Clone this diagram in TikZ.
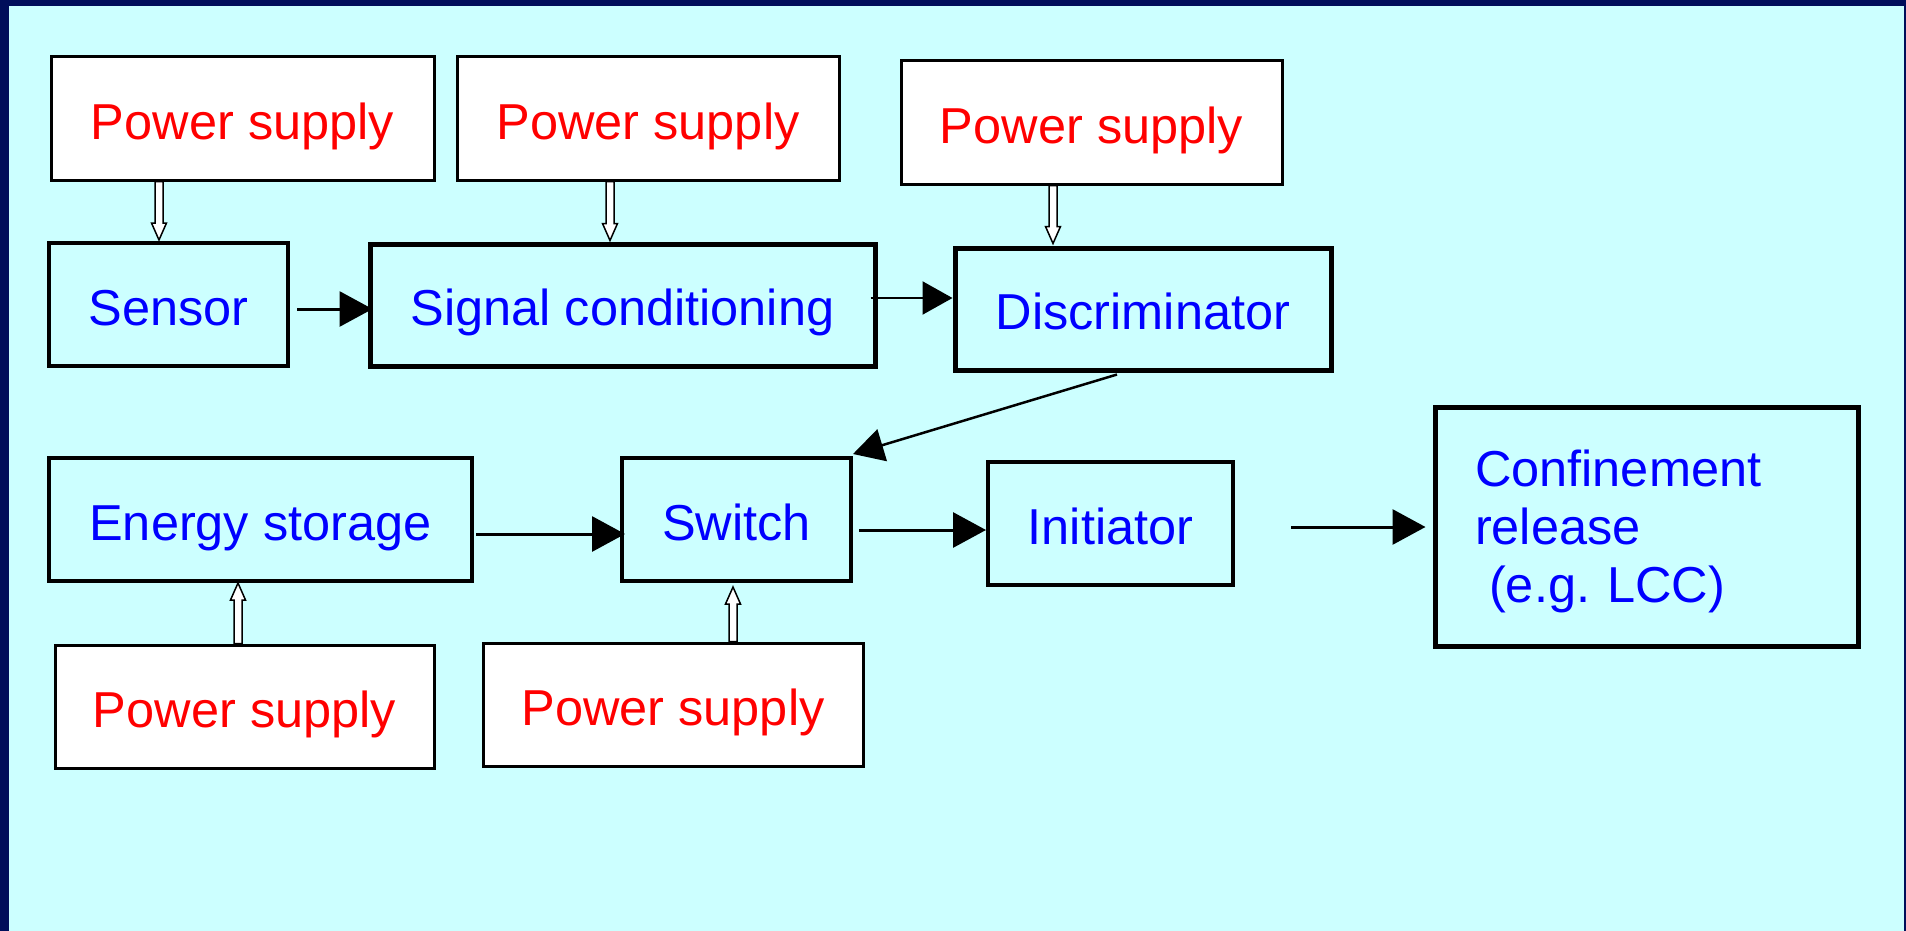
\documentclass[tikz,border=0pt]{standalone}
\usepackage{fontspec}
\setmainfont{Liberation Sans}
\usetikzlibrary{arrows.meta,calc}
\definecolor{navy}{RGB}{0,14,90}
\definecolor{bgcyan}{RGB}{204,255,255}
\definecolor{psred}{RGB}{255,0,0}
\definecolor{blkblue}{RGB}{0,0,255}
\newcommand\bigfont{\fontsize{25.25pt}{29pt}\selectfont}
\newcommand\hollowarrow[3]{\draw[hollow] let \p1=#1, \p2=#2, \n1={#3*8.5} in
  ({\x1-2pt},{\y1}) -- ({\x1-2pt},{\y2+\n1*1pt}) -- ({\x1-3.75pt},{\y2+\n1*1pt}) -- ({\x1},{\y2})
  -- ({\x1+3.75pt},{\y2+\n1*1pt}) -- ({\x1+2pt},{\y2+\n1*1pt}) -- ({\x1+2pt},{\y1}) -- cycle;}
\tikzset{
  psbox/.style={draw=black, line width=1.5pt, fill=white, text=psred, font=\bigfont,
    text height=20.6pt, text depth=0pt, minimum height=61.5pt, inner sep=0pt},
  blkbox/.style={draw=black, line width=2pt, text=blkblue, font=\bigfont,
    text height=20.6pt, text depth=0pt, minimum height=61.5pt, inner sep=0pt},
  heavybox/.style={blkbox, line width=2.5pt},
  arr/.style={line width=1.5pt, -{Triangle[length=16.5pt,width=17.5pt]}},
  arrthin/.style={line width=1.1pt, -{Triangle[length=15pt,width=16.5pt]}},
  arrmid/.style={line width=1.25pt, -{Triangle[length=15.25pt,width=16.5pt]}},
  hollow/.style={draw=black, fill=white, line width=0.75pt, line join=miter}
}
\begin{document}
\begin{tikzpicture}[x=0.5pt,y=-0.5pt]
\useasboundingbox (0,0) rectangle (1906,931);
\fill[navy] (0,0) rectangle (1906,931);
\fill[bgcyan] (9,6) rectangle (1904,931);

% power supplies
\node[psbox, minimum width=191.5pt] (ps1) at (242.5,118.5) {Power supply};
\node[psbox, minimum width=191pt] (ps2) at (648,118.5) {Power supply};
\node[psbox, minimum width=190.5pt] (ps3) at (1091.5,122.5) {Power supply};
\node[psbox, minimum width=189.5pt] (ps4) at (244.5,706.5) {Power supply};
\node[psbox, minimum width=190pt] (ps5) at (673,704.5) {Power supply};

% blocks
\node[blkbox, minimum width=119.5pt] (sensor) at (168.5,304.5) {Sensor};
\node[heavybox, minimum width=252.5pt, minimum height=61pt] (signal) at (622.5,305) {Signal conditioning};
\node[heavybox, minimum width=188pt, minimum height=61pt] (disc) at (1143,309) {Discriminator};
\node[blkbox, minimum width=211.5pt] (energy) at (260.5,519.5) {Energy storage};
\node[blkbox, minimum width=114.5pt] (switch) at (736.5,519.5) {Switch};
\node[blkbox, minimum width=122.5pt] (initiator) at (1110.5,523.5) {Initiator};
\node[draw=black, line width=2.5pt, text=blkblue, font=\bigfont, align=left,
  text width=171.5pt, inner xsep=20pt, inner ysep=0pt,
  minimum width=211.5pt, minimum height=119.5pt] (conf) at (1646.5,526.5)
  {\rule{0pt}{23pt}Confinement\\release\\\hspace*{0.28em}(e.g.\ LCC)};

% solid arrows
\draw[arr] ([xshift=3.5pt,yshift=-2.25pt]sensor.east) -- ([xshift=2.5pt,yshift=-2pt]signal.west);
\draw[arrthin] ([xshift=-3.5pt,yshift=3.5pt]signal.east) -- ([yshift=5.5pt]disc.west);
\draw[arrmid] ([xshift=-13pt,yshift=-1pt]disc.south) -- ([yshift=1pt]switch.north east);
\draw[arr] ([xshift=1pt,yshift=-7.25pt]energy.east) -- ([xshift=2.5pt,yshift=-7.25pt]switch.west);
\draw[arr] ([xshift=3pt,yshift=-5.25pt]switch.east) -- ([yshift=-3.25pt]initiator.west);
\draw[arr] ([xshift=28pt,yshift=-1.75pt]initiator.east) -- ([xshift=-3.5pt,yshift=-0.25pt]conf.west);

% hollow supply arrows
\hollowarrow{([xshift=-41.75pt]ps1.south)}{([xshift=-4.75pt,yshift=0.5pt]sensor.north)}{1}
\hollowarrow{([xshift=-19pt]ps2.south)}{([xshift=-6.25pt,yshift=0.5pt]signal.north)}{1}
\hollowarrow{([xshift=-19.25pt]ps3.south)}{([xshift=-45pt,yshift=1pt]disc.north)}{1}
\hollowarrow{([xshift=-3.25pt]ps4.north)}{([xshift=-11.25pt]energy.south)}{-1}
\hollowarrow{([xshift=30pt]ps5.north)}{([xshift=-1.75pt,yshift=-2pt]switch.south)}{-1}
\end{tikzpicture}
\end{document}
